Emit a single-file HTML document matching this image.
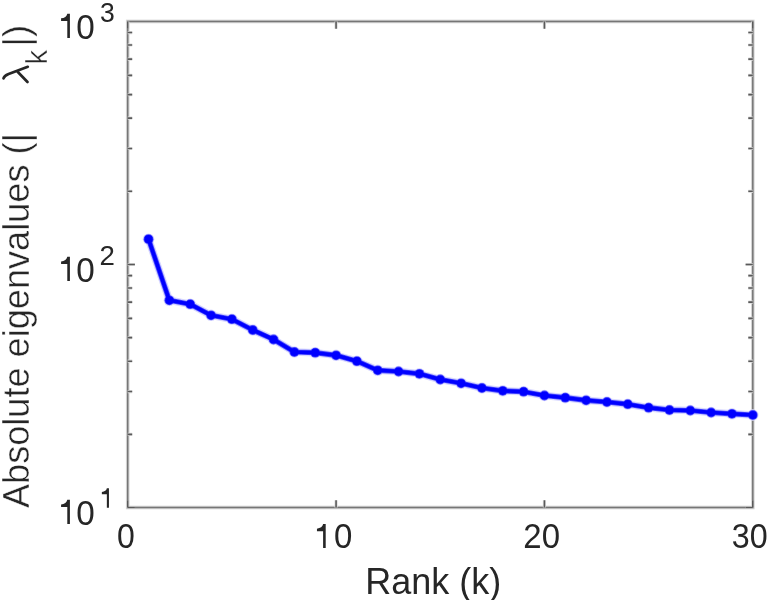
<!DOCTYPE html>
<html><head><meta charset="utf-8"><style>
html,body{margin:0;padding:0;background:#fff;width:772px;height:600px;overflow:hidden}
svg{display:block;will-change:transform}
text{font-family:"Liberation Sans",sans-serif;fill:#262626}
</style></head><body>
<svg width="772" height="600" viewBox="0 0 772 600">
<rect width="772" height="600" fill="#fff"/>
<rect x="127.7" y="21.45" width="625.10" height="486.05" fill="none" stroke="#d4d4d4" stroke-width="3.6"/>
<rect x="127.7" y="21.45" width="625.10" height="486.05" fill="none" stroke="#767676" stroke-width="1.5"/>
<path d="M127.70,507.50 L127.70,500.30 M127.70,21.45 L127.70,28.65 M336.07,507.50 L336.07,500.30 M336.07,21.45 L336.07,28.65 M544.43,507.50 L544.43,500.30 M544.43,21.45 L544.43,28.65 M752.80,507.50 L752.80,500.30 M752.80,21.45 L752.80,28.65 M127.70,507.50 L134.90,507.50 M752.80,507.50 L745.60,507.50 M127.70,434.34 L132.20,434.34 M752.80,434.34 L748.30,434.34 M127.70,391.55 L132.20,391.55 M752.80,391.55 L748.30,391.55 M127.70,361.18 L132.20,361.18 M752.80,361.18 L748.30,361.18 M127.70,337.63 L132.20,337.63 M752.80,337.63 L748.30,337.63 M127.70,318.39 L132.20,318.39 M752.80,318.39 L748.30,318.39 M127.70,302.12 L132.20,302.12 M752.80,302.12 L748.30,302.12 M127.70,288.03 L132.20,288.03 M752.80,288.03 L748.30,288.03 M127.70,275.60 L132.20,275.60 M752.80,275.60 L748.30,275.60 M127.70,264.48 L134.90,264.48 M752.80,264.48 L745.60,264.48 M127.70,191.32 L132.20,191.32 M752.80,191.32 L748.30,191.32 M127.70,148.52 L132.20,148.52 M752.80,148.52 L748.30,148.52 M127.70,118.16 L132.20,118.16 M752.80,118.16 L748.30,118.16 M127.70,94.61 L132.20,94.61 M752.80,94.61 L748.30,94.61 M127.70,75.36 L132.20,75.36 M752.80,75.36 L748.30,75.36 M127.70,59.10 L132.20,59.10 M752.80,59.10 L748.30,59.10 M127.70,45.00 L132.20,45.00 M752.80,45.00 L748.30,45.00 M127.70,32.57 L132.20,32.57 M752.80,32.57 L748.30,32.57" fill="none" stroke="#dcdcdc" stroke-width="3.2"/>
<path d="M127.70,507.50 L127.70,500.30 M127.70,21.45 L127.70,28.65 M336.07,507.50 L336.07,500.30 M336.07,21.45 L336.07,28.65 M544.43,507.50 L544.43,500.30 M544.43,21.45 L544.43,28.65 M752.80,507.50 L752.80,500.30 M752.80,21.45 L752.80,28.65 M127.70,507.50 L134.90,507.50 M752.80,507.50 L745.60,507.50 M127.70,434.34 L132.20,434.34 M752.80,434.34 L748.30,434.34 M127.70,391.55 L132.20,391.55 M752.80,391.55 L748.30,391.55 M127.70,361.18 L132.20,361.18 M752.80,361.18 L748.30,361.18 M127.70,337.63 L132.20,337.63 M752.80,337.63 L748.30,337.63 M127.70,318.39 L132.20,318.39 M752.80,318.39 L748.30,318.39 M127.70,302.12 L132.20,302.12 M752.80,302.12 L748.30,302.12 M127.70,288.03 L132.20,288.03 M752.80,288.03 L748.30,288.03 M127.70,275.60 L132.20,275.60 M752.80,275.60 L748.30,275.60 M127.70,264.48 L134.90,264.48 M752.80,264.48 L745.60,264.48 M127.70,191.32 L132.20,191.32 M752.80,191.32 L748.30,191.32 M127.70,148.52 L132.20,148.52 M752.80,148.52 L748.30,148.52 M127.70,118.16 L132.20,118.16 M752.80,118.16 L748.30,118.16 M127.70,94.61 L132.20,94.61 M752.80,94.61 L748.30,94.61 M127.70,75.36 L132.20,75.36 M752.80,75.36 L748.30,75.36 M127.70,59.10 L132.20,59.10 M752.80,59.10 L748.30,59.10 M127.70,45.00 L132.20,45.00 M752.80,45.00 L748.30,45.00 M127.70,32.57 L132.20,32.57 M752.80,32.57 L748.30,32.57" fill="none" stroke="#5a5a5a" stroke-width="1.6"/>
<text transform="matrix(0.91369,0,0,0.99994,117.050,548.258)" font-size="35.03">0</text>
<path d="M325.70,524.10 L325.70,548.10 L323.10,548.10 L323.10,531.30 L316.96,531.30 L316.96,528.66 C320.32,528.42 322.72,526.74 323.10,524.10 Z" fill="#262626"/>
<text transform="matrix(0.94355,0,0,0.99994,333.909,548.258)" font-size="35.03">0</text>
<text transform="matrix(0.94045,0,0,0.99994,523.343,548.258)" font-size="35.03">20</text>
<text transform="matrix(0.92109,0,0,0.99994,731.771,548.258)" font-size="35.03">30</text>
<path d="M69.91,499.80 L69.91,524.05 L67.29,524.05 L67.29,507.07 L61.08,507.07 L61.08,504.41 C64.48,504.17 66.90,502.47 67.29,499.80 Z" fill="#262626"/>
<text transform="matrix(0.94386,0,0,0.99999,76.201,524.656)" font-size="35.24">0</text>
<path d="M108.95,488.30 L108.95,507.80 L106.85,507.80 L106.85,494.15 L101.86,494.15 L101.86,492.00 C104.59,491.81 106.54,490.44 106.85,488.30 Z" fill="#262626"/>
<path d="M69.91,256.78 L69.91,281.03 L67.29,281.03 L67.29,264.05 L61.08,264.05 L61.08,261.38 C64.48,261.14 66.90,259.44 67.29,256.78 Z" fill="#262626"/>
<text transform="matrix(0.94386,0,0,0.99999,76.201,281.631)" font-size="35.24">0</text>
<text transform="matrix(0.98043,0,0,1.00013,99.609,265.075)" font-size="28.21">2</text>
<path d="M69.91,13.75 L69.91,38.00 L67.29,38.00 L67.29,21.02 L61.08,21.02 L61.08,18.36 C64.48,18.11 66.90,16.42 67.29,13.75 Z" fill="#262626"/>
<text transform="matrix(0.94386,0,0,0.99999,76.201,38.606)" font-size="35.24">0</text>
<text transform="matrix(0.95527,0,0,1.00016,99.988,21.778)" font-size="27.82">3</text>
<path d="M148.54,239.20 L169.37,300.30 L190.21,304.20 L211.05,315.30 L231.88,319.20 L252.72,330.00 L273.56,339.50 L294.39,352.00 L315.23,352.70 L336.07,355.30 L356.90,361.20 L377.74,370.30 L398.58,371.50 L419.41,373.80 L440.25,379.50 L461.09,383.30 L481.92,388.00 L502.76,390.80 L523.60,391.70 L544.43,395.50 L565.27,397.70 L586.11,400.30 L606.94,402.00 L627.78,404.20 L648.62,407.70 L669.45,410.00 L690.29,410.50 L711.13,412.50 L731.96,413.80 L752.80,415.00" fill="none" stroke="#d7d7ff" stroke-width="7.6" stroke-linejoin="round" stroke-linecap="round"/>
<g fill="#d7d7ff"><circle cx="148.54" cy="239.20" r="5.8"/><circle cx="169.37" cy="300.30" r="5.8"/><circle cx="190.21" cy="304.20" r="5.8"/><circle cx="211.05" cy="315.30" r="5.8"/><circle cx="231.88" cy="319.20" r="5.8"/><circle cx="252.72" cy="330.00" r="5.8"/><circle cx="273.56" cy="339.50" r="5.8"/><circle cx="294.39" cy="352.00" r="5.8"/><circle cx="315.23" cy="352.70" r="5.8"/><circle cx="336.07" cy="355.30" r="5.8"/><circle cx="356.90" cy="361.20" r="5.8"/><circle cx="377.74" cy="370.30" r="5.8"/><circle cx="398.58" cy="371.50" r="5.8"/><circle cx="419.41" cy="373.80" r="5.8"/><circle cx="440.25" cy="379.50" r="5.8"/><circle cx="461.09" cy="383.30" r="5.8"/><circle cx="481.92" cy="388.00" r="5.8"/><circle cx="502.76" cy="390.80" r="5.8"/><circle cx="523.60" cy="391.70" r="5.8"/><circle cx="544.43" cy="395.50" r="5.8"/><circle cx="565.27" cy="397.70" r="5.8"/><circle cx="586.11" cy="400.30" r="5.8"/><circle cx="606.94" cy="402.00" r="5.8"/><circle cx="627.78" cy="404.20" r="5.8"/><circle cx="648.62" cy="407.70" r="5.8"/><circle cx="669.45" cy="410.00" r="5.8"/><circle cx="690.29" cy="410.50" r="5.8"/><circle cx="711.13" cy="412.50" r="5.8"/><circle cx="731.96" cy="413.80" r="5.8"/><circle cx="752.80" cy="415.00" r="5.8"/></g>
<path d="M148.54,239.20 L169.37,300.30 L190.21,304.20 L211.05,315.30 L231.88,319.20 L252.72,330.00 L273.56,339.50 L294.39,352.00 L315.23,352.70 L336.07,355.30 L356.90,361.20 L377.74,370.30 L398.58,371.50 L419.41,373.80 L440.25,379.50 L461.09,383.30 L481.92,388.00 L502.76,390.80 L523.60,391.70 L544.43,395.50 L565.27,397.70 L586.11,400.30 L606.94,402.00 L627.78,404.20 L648.62,407.70 L669.45,410.00 L690.29,410.50 L711.13,412.50 L731.96,413.80 L752.80,415.00" fill="none" stroke="#4646ff" stroke-width="5.2" stroke-linejoin="round" stroke-linecap="round"/>
<g fill="#4646ff"><circle cx="148.54" cy="239.20" r="4.9"/><circle cx="169.37" cy="300.30" r="4.9"/><circle cx="190.21" cy="304.20" r="4.9"/><circle cx="211.05" cy="315.30" r="4.9"/><circle cx="231.88" cy="319.20" r="4.9"/><circle cx="252.72" cy="330.00" r="4.9"/><circle cx="273.56" cy="339.50" r="4.9"/><circle cx="294.39" cy="352.00" r="4.9"/><circle cx="315.23" cy="352.70" r="4.9"/><circle cx="336.07" cy="355.30" r="4.9"/><circle cx="356.90" cy="361.20" r="4.9"/><circle cx="377.74" cy="370.30" r="4.9"/><circle cx="398.58" cy="371.50" r="4.9"/><circle cx="419.41" cy="373.80" r="4.9"/><circle cx="440.25" cy="379.50" r="4.9"/><circle cx="461.09" cy="383.30" r="4.9"/><circle cx="481.92" cy="388.00" r="4.9"/><circle cx="502.76" cy="390.80" r="4.9"/><circle cx="523.60" cy="391.70" r="4.9"/><circle cx="544.43" cy="395.50" r="4.9"/><circle cx="565.27" cy="397.70" r="4.9"/><circle cx="586.11" cy="400.30" r="4.9"/><circle cx="606.94" cy="402.00" r="4.9"/><circle cx="627.78" cy="404.20" r="4.9"/><circle cx="648.62" cy="407.70" r="4.9"/><circle cx="669.45" cy="410.00" r="4.9"/><circle cx="690.29" cy="410.50" r="4.9"/><circle cx="711.13" cy="412.50" r="4.9"/><circle cx="731.96" cy="413.80" r="4.9"/><circle cx="752.80" cy="415.00" r="4.9"/></g>
<path d="M148.54,239.20 L169.37,300.30 L190.21,304.20 L211.05,315.30 L231.88,319.20 L252.72,330.00 L273.56,339.50 L294.39,352.00 L315.23,352.70 L336.07,355.30 L356.90,361.20 L377.74,370.30 L398.58,371.50 L419.41,373.80 L440.25,379.50 L461.09,383.30 L481.92,388.00 L502.76,390.80 L523.60,391.70 L544.43,395.50 L565.27,397.70 L586.11,400.30 L606.94,402.00 L627.78,404.20 L648.62,407.70 L669.45,410.00 L690.29,410.50 L711.13,412.50 L731.96,413.80 L752.80,415.00" fill="none" stroke="#0000ff" stroke-width="3.6" stroke-linejoin="round" stroke-linecap="round"/>
<g fill="#0000ff"><circle cx="148.54" cy="239.20" r="4.1"/><circle cx="169.37" cy="300.30" r="4.1"/><circle cx="190.21" cy="304.20" r="4.1"/><circle cx="211.05" cy="315.30" r="4.1"/><circle cx="231.88" cy="319.20" r="4.1"/><circle cx="252.72" cy="330.00" r="4.1"/><circle cx="273.56" cy="339.50" r="4.1"/><circle cx="294.39" cy="352.00" r="4.1"/><circle cx="315.23" cy="352.70" r="4.1"/><circle cx="336.07" cy="355.30" r="4.1"/><circle cx="356.90" cy="361.20" r="4.1"/><circle cx="377.74" cy="370.30" r="4.1"/><circle cx="398.58" cy="371.50" r="4.1"/><circle cx="419.41" cy="373.80" r="4.1"/><circle cx="440.25" cy="379.50" r="4.1"/><circle cx="461.09" cy="383.30" r="4.1"/><circle cx="481.92" cy="388.00" r="4.1"/><circle cx="502.76" cy="390.80" r="4.1"/><circle cx="523.60" cy="391.70" r="4.1"/><circle cx="544.43" cy="395.50" r="4.1"/><circle cx="565.27" cy="397.70" r="4.1"/><circle cx="586.11" cy="400.30" r="4.1"/><circle cx="606.94" cy="402.00" r="4.1"/><circle cx="627.78" cy="404.20" r="4.1"/><circle cx="648.62" cy="407.70" r="4.1"/><circle cx="669.45" cy="410.00" r="4.1"/><circle cx="690.29" cy="410.50" r="4.1"/><circle cx="711.13" cy="412.50" r="4.1"/><circle cx="731.96" cy="413.80" r="4.1"/><circle cx="752.80" cy="415.00" r="4.1"/></g>
<g transform="translate(433.3,593.6) scale(1,1.03)"><text x="0" y="0" font-size="36.6" text-anchor="middle" textLength="136" lengthAdjust="spacingAndGlyphs">Rank (k)</text></g>
<g transform="translate(28.7,508.0) rotate(-90)"><text x="0" y="0" font-size="36.6" textLength="374.9" lengthAdjust="spacingAndGlyphs" stroke="#fff" stroke-width="0.4">Absolute eigenvalues (|</text></g>
<path d="M3.5,78.4 C4.0,76.4 5.6,75.2 8.6,74.0 L27.8,66.8 M17.6,71.8 L27.5,82.0" fill="none" stroke="#262626" stroke-width="2.7" stroke-linecap="round"/>
<g transform="translate(46.5,64.5) rotate(-90)"><text x="0" y="0" font-size="29.28" stroke="#fff" stroke-width="0.4">k</text></g>
<g transform="translate(28.5,46.5) rotate(-90)"><text x="0" y="0" font-size="36.6" stroke="#fff" stroke-width="0.4">|)</text></g>
</svg></body></html>
